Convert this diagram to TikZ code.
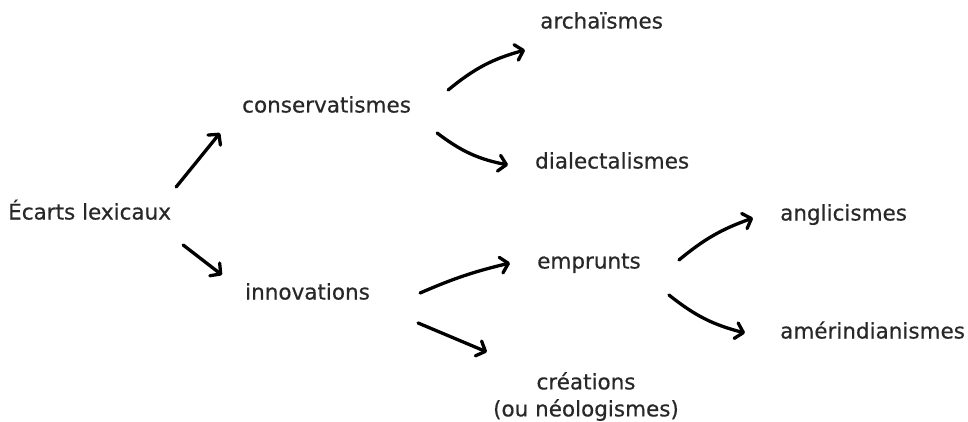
\documentclass[tikz,border=0pt]{standalone}
\usepackage{fontspec}
\setmainfont{DejaVu Sans}
\newfontfamily\wordfont{DejaVu Sans}[FakeBold=0.5]
\usetikzlibrary{arrows.meta}
\definecolor{inkgray}{RGB}{40,40,40}

\begin{document}
\begin{tikzpicture}[x=1pt, y=-1pt, line cap = round, line join = round, >={Straight Barb[length=7.5pt,width=16pt,round]}]
\tikzstyle{word}=[text=inkgray, font=\wordfont\fontsize{21.5}{27}\selectfont, inner sep=0pt, anchor=west, text height=15pt, text depth=4pt]
\tikzstyle{word2}=[text=inkgray, font=\wordfont\fontsize{21.5}{27}\selectfont, inner sep=0pt, align=center, anchor=north]
\tikzstyle{arrow}=[line width=3.3pt, ->, color=black]
\useasboundingbox (0,0) rectangle (968,422);

\node[word] (ecarts) at (8,214)  {Écarts lexicaux};
\node[word] (cons)   at (242,107) {conservatismes};
\node[word] (innov)  at (245,294) {innovations};
\node[word] (arch)   at (540,23)  {archaïsmes};
\node[word] (dial)   at (535,163) {dialectalismes};
\node[word] (emp)    at (537,263) {emprunts};
\node[word] (angl)   at (780,215) {anglicismes};
\node[word] (amer)   at (780,333) {amérindianismes};
\node[word2] (crea)  at (586,372) {créations\\(ou néologismes)};

\draw[arrow] ([shift={(5,-27)}]ecarts.east) -- ([shift={(-22,26)}]cons.west);
\draw[arrow] ([shift={(12,31)}]ecarts.east) -- ([shift={(-23,-19)}]innov.west);
\draw[arrow] ([shift={(37,-17)}]cons.east) to[bend left=12] ([shift={(-15,27)}]arch.west);
\draw[arrow] ([shift={(26,26)}]cons.east) to[bend right=13] ([shift={(-27,2)}]dial.west);
\draw[arrow] ([shift={(50,-1)}]innov.east) to[bend left=5] ([shift={(-27,0)}]emp.west);
\draw[arrow] ([shift={(48,29)}]innov.east) -- ([shift={(-6,-20)}]crea.north west);
\draw[arrow] ([shift={(38,-3)}]emp.east) to[bend left=10] ([shift={(-27,3)}]angl.west);
\draw[arrow] ([shift={(28,32)}]emp.east) to[bend right=12] ([shift={(-35,0)}]amer.west);
\end{tikzpicture}
\end{document}
